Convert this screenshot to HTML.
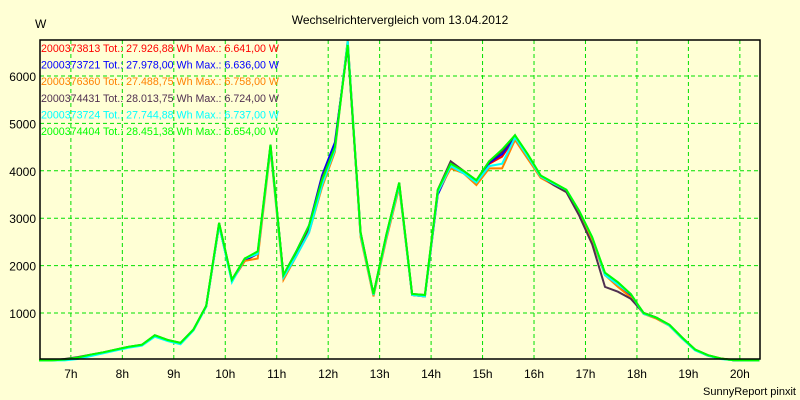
<!DOCTYPE html>
<html><head><meta charset="utf-8"><style>
body{margin:0;background:#ffffd5;}
svg{display:block;font-family:"Liberation Sans",sans-serif;}
</style></head><body>
<svg id="chart" width="800" height="400">
<rect x="0" y="0" width="800" height="400" fill="#ffffd5"/>
<text x="400" y="24" font-size="12" text-anchor="middle">Wechselrichtervergleich vom 13.04.2012</text>
<text x="35" y="28" font-size="12">W</text>
<g id="grid"></g>
<g id="series"></g>
<rect x="40" y="40" width="720" height="319" fill="none" stroke="#000" stroke-width="1.5"/>
<g id="axes"></g>
<g id="legend"></g>
<text x="796" y="395" font-size="11" text-anchor="end">SunnyReport pinxit</text>
</svg>
<script>
const times=[6.38,6.63,6.88,7.13,7.38,7.63,7.88,8.13,8.38,8.63,8.88,9.13,9.38,9.63,9.88,10.13,10.38,10.63,10.88,11.13,11.38,11.63,11.88,12.13,12.38,12.63,12.88,13.13,13.38,13.63,13.88,14.13,14.38,14.63,14.88,15.13,15.38,15.63,15.88,16.13,16.38,16.63,16.88,17.13,17.38,17.63,17.88,18.13,18.38,18.63,18.88,19.13,19.38,19.63,19.88,20.13,20.38];
const sRed=[0,0,20,60,110,160,220,280,320,520,420,360,640,1140,2850,1680,2100,2250,4500,1780,2250,2800,3800,4550,6641,2650,1380,2600,3700,1380,1350,3550,4100,3950,3780,4150,4300,4700,4300,3870,3720,3570,3100,2550,1800,1600,1350,1000,900,740,470,220,100,35,5,0,0];
const sBlue=[0,0,20,60,110,160,220,280,320,520,420,360,640,1140,2850,1680,2120,2250,4500,1800,2300,2850,3900,4600,6636,2650,1380,2600,3700,1380,1350,3500,4080,3950,3780,4170,4350,4720,4320,3880,3730,3580,3120,2580,1820,1620,1380,1000,900,740,470,220,100,35,5,0,0];
const sOrange=[0,0,20,60,110,160,220,280,320,520,420,360,640,1140,2850,1700,2100,2150,4450,1700,2200,2700,3650,4400,6758,2600,1350,2550,3650,1380,1350,3550,4050,3950,3700,4050,4050,4650,4250,3850,3700,3550,3100,2550,1800,1550,1330,980,880,730,460,220,100,40,10,0,0];
const sPurple=[0,0,30,70,120,170,230,290,330,530,430,370,650,1150,2900,1700,2150,2250,4550,1780,2280,2800,3850,4500,6724,2700,1400,2650,3750,1400,1380,3600,4200,4000,3800,4200,4400,4750,4300,3900,3700,3550,3050,2450,1550,1450,1300,1000,900,750,480,230,110,40,5,0,0];
const sCyan=[0,0,0,30,90,150,210,270,310,500,410,340,630,1130,2850,1650,2150,2250,4500,1750,2200,2700,3700,4450,6737,2650,1380,2600,3700,1380,1350,3550,4100,3950,3750,4100,4150,4700,4300,3880,3730,3600,3150,2600,1800,1600,1400,980,900,730,460,210,100,30,5,0,0];
const sGreen=[0,0,20,60,120,170,230,290,330,530,430,370,650,1150,2900,1700,2150,2300,4550,1800,2300,2850,3800,4500,6654,2700,1400,2650,3750,1400,1380,3600,4150,4000,3800,4200,4450,4750,4350,3900,3750,3600,3150,2600,1850,1650,1400,1000,900,750,480,230,110,40,5,0,0];
const seriesList=[sRed,sBlue,sOrange,sPurple,sCyan,sGreen];
const seriesColors=["#ff0000","#0000ff","#ff8000","#503050","#00ffff","#00ff00"];
const seriesNames=["series-2000373813","series-2000373721","series-2000376360","series-2000374431","series-2000373724","series-2000374404"];
const legendLabels=["2000373813 Tot.: 27.926,88 Wh Max.: 6.641,00 W","2000373721 Tot.: 27.978,00 Wh Max.: 6.636,00 W","2000376360 Tot.: 27.488,75 Wh Max.: 6.758,00 W","2000374431 Tot.: 28.013,75 Wh Max.: 6.724,00 W","2000373724 Tot.: 27.744,88 Wh Max.: 6.737,00 W","2000374404 Tot.: 28.451,38 Wh Max.: 6.654,00 W"];
const yTicks=[1000,2000,3000,4000,5000,6000];
const xTicks=[7,8,9,10,11,12,13,14,15,16,17,18,19,20];
const NS="http://www.w3.org/2000/svg";
function xs(t){return 40+(t-6.4)*51.46;}
function ys(v){return 360.4-v*0.0474;}
const grid=document.getElementById('grid'),axes=document.getElementById('axes'),ser=document.getElementById('series'),leg=document.getElementById('legend');
yTicks.forEach(v=>{
 const l=document.createElementNS(NS,'line');
 
 
 l.setAttribute('x1',40);l.setAttribute('x2',760);l.setAttribute('y1',ys(v));l.setAttribute('y2',ys(v));
 l.setAttribute('stroke','#00e000');l.setAttribute('stroke-dasharray','4,3');grid.appendChild(l);
 const t=document.createElementNS(NS,'text');
 
 
 t.setAttribute('x',36);t.setAttribute('y',ys(v)+5);t.setAttribute('font-size','12');t.setAttribute('text-anchor','end');
 t.textContent=v;axes.appendChild(t);
});
xTicks.forEach(h=>{
 const l=document.createElementNS(NS,'line');
 
 
 l.setAttribute('x1',xs(h));l.setAttribute('x2',xs(h));l.setAttribute('y1',40);l.setAttribute('y2',359);
 l.setAttribute('stroke','#00e000');l.setAttribute('stroke-dasharray','4,3');grid.appendChild(l);
 const t=document.createElementNS(NS,'text');
 
 
 t.setAttribute('x',xs(h));t.setAttribute('y',378);t.setAttribute('font-size','12');t.setAttribute('text-anchor','middle');
 t.textContent=h+'h';axes.appendChild(t);
});
seriesList.forEach((s,i)=>{
 const p=document.createElementNS(NS,'polyline');
 
 
 p.setAttribute('points',s.map((v,k)=>xs(times[k]).toFixed(1)+','+ys(v).toFixed(1)).join(' '));
 p.setAttribute('fill','none');p.setAttribute('stroke',seriesColors[i]);p.setAttribute('stroke-width','2');
 ser.appendChild(p);
});
legendLabels.forEach((lab,i)=>{
 const t=document.createElementNS(NS,'text');
 
 
 t.setAttribute('x',41);t.setAttribute('y',52+i*16.6);t.setAttribute('font-size','11');t.setAttribute('fill',seriesColors[i]);
 t.setAttribute('textLength','238');t.setAttribute('lengthAdjust','spacingAndGlyphs');
 t.textContent=lab;leg.appendChild(t);
});
</script>
</body></html>
